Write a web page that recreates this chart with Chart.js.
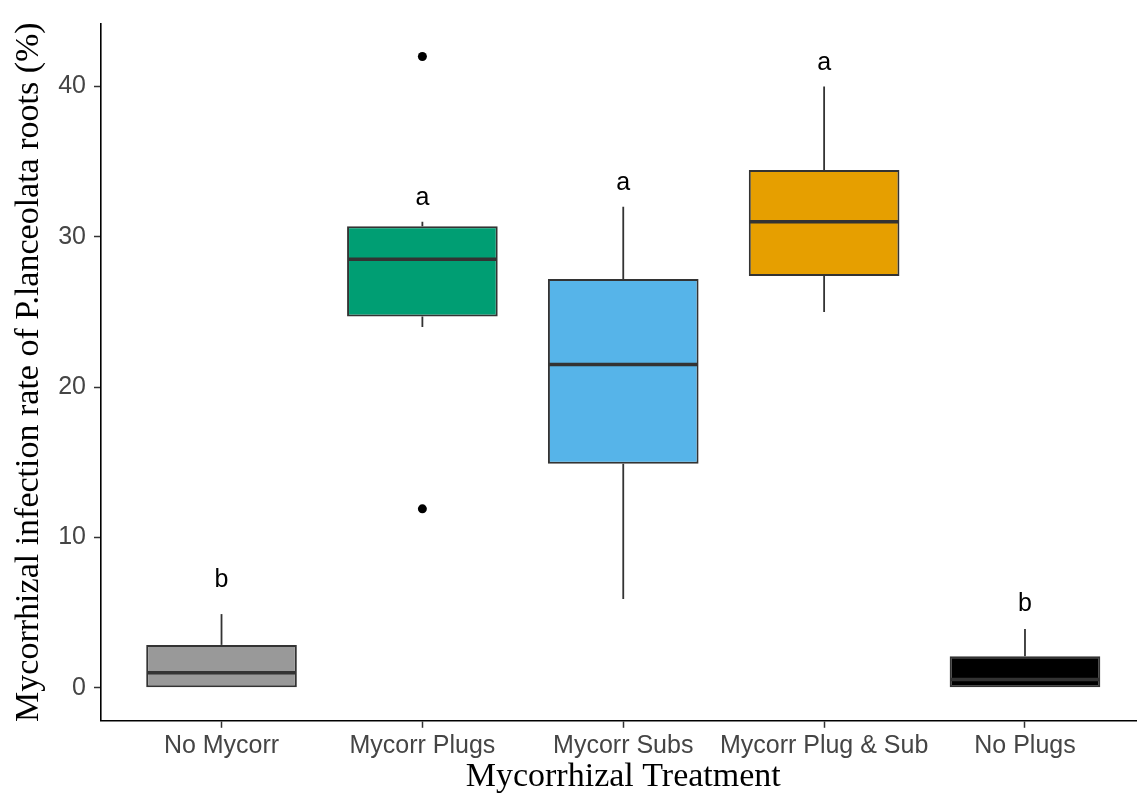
<!DOCTYPE html>
<html>
<head>
<meta charset="utf-8">
<script src="https://cdn.jsdelivr.net/npm/chart.js@4/dist/chart.umd.min.js"></script>
<style>
  html, body { margin: 0; padding: 0; background: #ffffff; overflow: hidden; }
  #wrap { width: 1150px; height: 798px; }
</style>
</head>
<body>
<div id="wrap"><canvas id="chart" width="1150" height="798"></canvas></div>
<script>
// Treatment groups and their box-plot summaries (% root infection)
const categories  = ['No Mycorr', 'Mycorr Plugs', 'Mycorr Subs', 'Mycorr Plug & Sub', 'No Plugs'];
const q1          = [0,    24.7, 14.9, 27.4,  0];
const median      = [1.0,  28.5, 21.5, 31.0,  0.55];
const q3          = [2.85, 30.7, 27.2, 34.45, 2.1];
const whiskerLow  = [0,    24.0, 5.9,  25.0,  0];
const whiskerHigh = [4.9,  31.0, 32.0, 40.0,  3.9];

// Outlying observations (group position, value)
const outlierGroup = [2, 2];
const outlierValue = [42.0, 11.9];

// Significance letters and the height they sit at
const letters = ['b', 'a', 'a', 'a', 'b'];
const letterY = [6.7, 32.1, 33.1, 41.1, 5.1];

const yTicks = [0, 10, 20, 30, 40];
const fillColors = ['#999999', '#009E73', '#56B4E9', '#E69F00', '#000000'];

const SANS = '"Liberation Sans", Arial, sans-serif';
const SERIF = '"Liberation Serif", "Times New Roman", serif';

// Whiskers behind the boxes, medians and letters on top
const boxParts = {
  id: 'boxParts',
  beforeDatasetsDraw(chart) {
    const ctx = chart.ctx, xs = chart.scales.x, ys = chart.scales.y;
    ctx.save();
    ctx.strokeStyle = '#333333';
    ctx.lineWidth = 1.8;
    categories.forEach((c, i) => {
      const x = xs.getPixelForValue(i + 1);
      ctx.beginPath();
      ctx.moveTo(x, ys.getPixelForValue(q3[i]));
      ctx.lineTo(x, ys.getPixelForValue(whiskerHigh[i]));
      ctx.moveTo(x, ys.getPixelForValue(q1[i]));
      ctx.lineTo(x, ys.getPixelForValue(whiskerLow[i]));
      ctx.stroke();
    });
    ctx.restore();
  },
  afterDatasetsDraw(chart) {
    const ctx = chart.ctx, xs = chart.scales.x, ys = chart.scales.y;
    const bars = chart.getDatasetMeta(0).data;
    ctx.save();
    ctx.strokeStyle = '#333333';
    ctx.lineWidth = 3.5;
    bars.forEach((bar, i) => {
      const half = bar.width / 2;
      const y = ys.getPixelForValue(median[i]);
      ctx.beginPath();
      ctx.moveTo(bar.x - half + 1, y);
      ctx.lineTo(bar.x + half - 1, y);
      ctx.stroke();
    });
    ctx.fillStyle = '#000000';
    ctx.font = '25px ' + SANS;
    ctx.textAlign = 'center';
    ctx.textBaseline = 'alphabetic';
    letters.forEach((t, i) => {
      ctx.fillText(t, xs.getPixelForValue(i + 1), ys.getPixelForValue(letterY[i]));
    });
    ctx.restore();
  }
};

new Chart(document.getElementById('chart'), {
  type: 'bar',
  data: {
    datasets: [
      {
        type: 'bar',
        data: categories.map((c, i) => ({ x: i + 1, y: [q1[i], q3[i]] })),
        backgroundColor: fillColors,
        borderColor: '#333333',
        borderWidth: 2,
        borderSkipped: false,
        barPercentage: 0.75,
        categoryPercentage: 1.0
      },
      {
        type: 'scatter',
        data: outlierGroup.map((g, i) => ({ x: g, y: outlierValue[i] })),
        backgroundColor: '#000000',
        borderWidth: 0,
        pointRadius: 4.5,
        showLine: false
      }
    ]
  },
  options: {
    responsive: false,
    animation: false,
    events: [],
    layout: { padding: { left: 0, right: 3, top: 23.4, bottom: 0 } },
    plugins: { legend: { display: false }, tooltip: { enabled: false } },
    scales: {
      x: {
        type: 'linear',
        min: 0.4,
        max: 5.6,
        offset: false,
        afterBuildTicks: s => { s.ticks = categories.map((c, i) => ({ value: i + 1 })); },
        afterFit: s => { s.height = 77.2; s.paddingLeft = 0; s.paddingRight = 0; },
        ticks: {
          callback: v => categories[v - 1],
          font: { family: SANS, size: 25 },
          color: '#454545',
          padding: 3,
          maxRotation: 0,
          autoSkip: false
        },
        grid: { display: true, offset: false, drawOnChartArea: false, drawTicks: true, tickLength: 7, tickColor: '#333333', tickWidth: 1.5 },
        border: { display: true, color: '#000000', width: 1.6 },
        title: {
          display: true,
          text: 'Mycorrhizal Treatment',
          font: { family: SERIF, size: 34 },
          color: '#000000',
          padding: { top: 0, bottom: 1 }
        }
      },
      y: {
        type: 'linear',
        min: -2.2,
        max: 44.2,
        afterBuildTicks: s => { s.ticks = yTicks.map(v => ({ value: v })); },
        afterFit: s => { s.width = 101; s.paddingTop = 0; s.paddingBottom = 0; },
        ticks: {
          font: { family: SANS, size: 25 },
          color: '#454545',
          padding: 8
        },
        grid: { display: true, drawOnChartArea: false, drawTicks: true, tickLength: 7, tickColor: '#333333', tickWidth: 1.5 },
        border: { display: true, color: '#000000', width: 1.6 },
        title: {
          display: true,
          text: 'Mycorrhizal infection rate of P.lanceolata roots (%)',
          font: { family: SERIF, size: 34 },
          color: '#000000',
          padding: { top: 9, bottom: 0 }
        }
      }
    }
  },
  plugins: [boxParts]
});
</script>
</body>
</html>
